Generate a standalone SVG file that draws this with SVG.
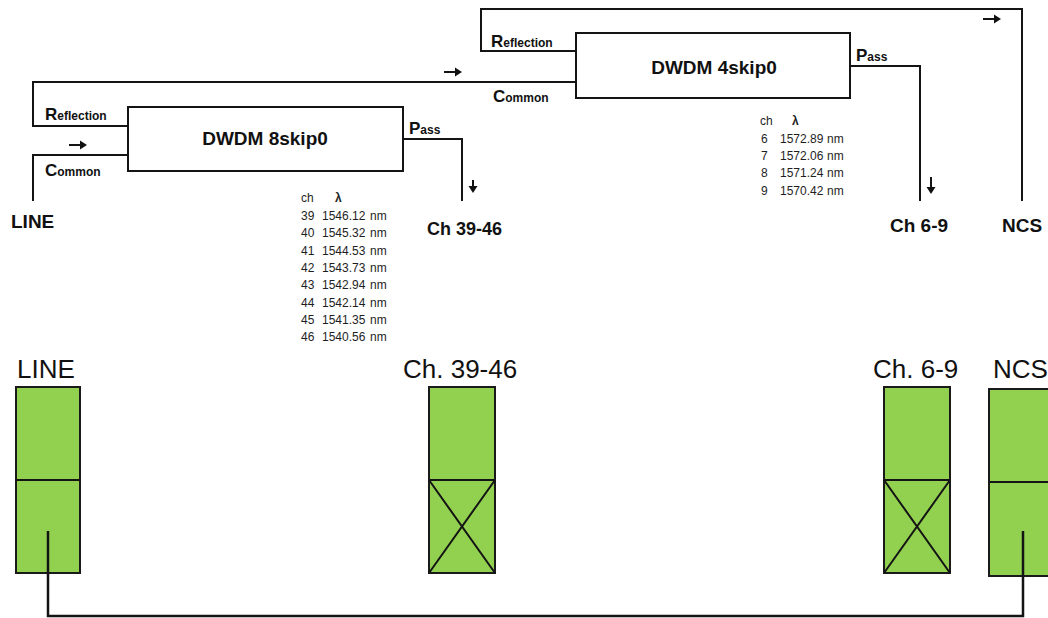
<svg xmlns="http://www.w3.org/2000/svg" width="1048" height="618" viewBox="0 0 1048 618">
<defs>
<style>
.w{fill:none;stroke:#141414;stroke-width:2}
.bx{fill:#fff;stroke:#141414;stroke-width:2}
.t{font-family:"Liberation Sans",Arial,sans-serif;fill:#111}
.b{font-weight:bold}
.big{font-size:17px;font-weight:bold}
.sm{font-size:12px;font-weight:bold}
.tb{font-family:"Liberation Sans",Arial,sans-serif;font-size:12px;fill:#1e1e1e}
.port{fill:#92D050;stroke:#1a1a1a;stroke-width:2}
.pl{font-family:"Liberation Sans",Arial,sans-serif;font-size:26px;fill:#111}
.ah{fill:#111}
</style>
</defs>
<rect width="1048" height="618" fill="#fff"/>

<g id="dwdm8">
<rect class="bx" x="128" y="107" width="275" height="64"/>
<text class="t b" x="265" y="145" font-size="19" text-anchor="middle">DWDM 8skip0</text>
</g>
<g id="dwdm4">
<rect class="bx" x="576" y="33" width="274" height="65"/>
<text class="t b" x="714" y="74" font-size="19" text-anchor="middle">DWDM 4skip0</text>
</g>

<g id="labels">
<text class="t" x="45" y="120"><tspan class="big">R</tspan><tspan class="sm">eflection</tspan></text>
<text class="t" x="45" y="176"><tspan class="big">C</tspan><tspan class="sm">ommon</tspan></text>
<text class="t" x="409" y="134"><tspan class="big">P</tspan><tspan class="sm">ass</tspan></text>
<text class="t" x="491" y="47"><tspan class="big">R</tspan><tspan class="sm">eflection</tspan></text>
<text class="t" x="493" y="102"><tspan class="big">C</tspan><tspan class="sm">ommon</tspan></text>
<text class="t" x="856" y="61"><tspan class="big">P</tspan><tspan class="sm">ass</tspan></text>
<text class="t b" x="11" y="228" font-size="19">LINE</text>
<text class="t b" x="427" y="235" font-size="18">Ch 39-46</text>
<text class="t b" x="890" y="232" font-size="19">Ch 6-9</text>
<text class="t b" x="1002" y="232" font-size="19">NCS</text>
</g>

<g id="table8">
<text class="tb" x="301" y="202">ch</text><text class="tb" x="335" y="202" font-weight="bold">λ</text>
<text class="tb" y="220"><tspan x="301">39</tspan><tspan x="322">1546.12</tspan><tspan x="370">nm</tspan></text>
<text class="tb" y="237.3"><tspan x="301">40</tspan><tspan x="322">1545.32</tspan><tspan x="370">nm</tspan></text>
<text class="tb" y="254.6"><tspan x="301">41</tspan><tspan x="322">1544.53</tspan><tspan x="370">nm</tspan></text>
<text class="tb" y="271.9"><tspan x="301">42</tspan><tspan x="322">1543.73</tspan><tspan x="370">nm</tspan></text>
<text class="tb" y="289.2"><tspan x="301">43</tspan><tspan x="322">1542.94</tspan><tspan x="370">nm</tspan></text>
<text class="tb" y="306.5"><tspan x="301">44</tspan><tspan x="322">1542.14</tspan><tspan x="370">nm</tspan></text>
<text class="tb" y="323.8"><tspan x="301">45</tspan><tspan x="322">1541.35</tspan><tspan x="370">nm</tspan></text>
<text class="tb" y="341.1"><tspan x="301">46</tspan><tspan x="322">1540.56</tspan><tspan x="370">nm</tspan></text>
</g>

<g id="table4">
<text class="tb" x="760" y="125">ch</text><text class="tb" x="792" y="125" font-weight="bold">λ</text>
<text class="tb" y="143"><tspan x="761">6</tspan><tspan x="780">1572.89</tspan><tspan x="827">nm</tspan></text>
<text class="tb" y="160.2"><tspan x="761">7</tspan><tspan x="780">1572.06</tspan><tspan x="827">nm</tspan></text>
<text class="tb" y="177.4"><tspan x="761">8</tspan><tspan x="780">1571.24</tspan><tspan x="827">nm</tspan></text>
<text class="tb" y="194.6"><tspan x="761">9</tspan><tspan x="780">1570.42</tspan><tspan x="827">nm</tspan></text>
</g>

<g id="port-line">
<text class="pl" x="17" y="378">LINE</text>
<rect class="port" x="16" y="387" width="64" height="186"/>
<line class="w" x1="16" y1="480" x2="80" y2="480"/>
</g>
<g id="port-ch39">
<text class="pl" x="403" y="378">Ch. 39-46</text>
<rect class="port" x="429" y="387" width="66" height="186"/>
<path class="w" d="M429,480H495M429,480L495,573M495,480L429,573"/>
</g>
<g id="port-ch6">
<text class="pl" x="873" y="378">Ch. 6-9</text>
<rect class="port" x="884" y="387" width="66" height="186"/>
<path class="w" d="M884,480H950M884,480L950,573M950,480L884,573"/>
</g>
<g id="port-ncs">
<text class="pl" x="993" y="378">NCS</text>
<rect class="port" x="989" y="389" width="70" height="187"/>
<line class="w" x1="989" y1="482" x2="1050" y2="482"/>
</g>

<g id="connectors">
<polyline class="w" points="576,51 481,51 481,9 1022,9 1022,201"/>
<polyline class="w" points="576,82 33,82 33,126 128,126"/>
<polyline class="w" points="128,155 33,155 33,201"/>
<polyline class="w" points="403,139 462,139 462,201"/>
<polyline class="w" points="850,66 920,66 920,201"/>
<g id="arrows">
<path class="w" d="M69,145H82"/><polygon class="ah" points="87,145 80,140.5 80,149.5"/>
<path class="w" d="M444,72H457"/><polygon class="ah" points="462,72 455,67.5 455,76.5"/>
<path class="w" d="M983,19H996"/><polygon class="ah" points="1001,19 994,14.5 994,23.5"/>
<path class="w" d="M473,180V188"/><polygon class="ah" points="473,193 468.5,186 477.5,186"/>
<path class="w" d="M931,177V189"/><polygon class="ah" points="931,194 926.5,187 935.5,187"/>
</g>
<polyline class="w" style="stroke-width:2.5" points="48,531 48,616 1023,616 1023,531"/>
</g>
</svg>
